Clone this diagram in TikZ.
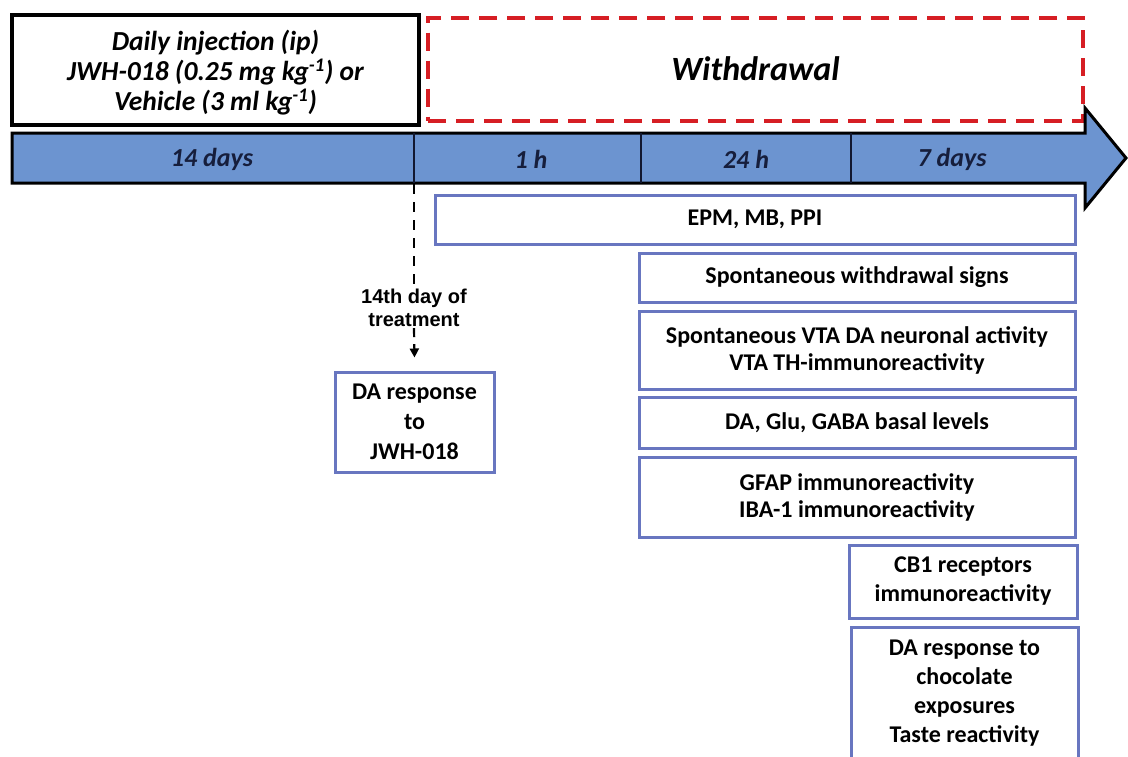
\documentclass[tikz,border=0pt]{standalone}
\usepackage{fontspec}
\setmainfont{Carlito}
\newfontfamily\arialfont{Liberation Sans}
\usetikzlibrary{arrows.meta}
\definecolor{barblue}{RGB}{108,148,208}
\definecolor{boxblue}{RGB}{104,118,192}
\definecolor{navy}{RGB}{22,30,60}
\definecolor{dashred}{RGB}{214,30,36}
\tikzset{
  infobox/.style={draw=boxblue, line width=3pt, fill=white, align=center, inner sep=0pt,
    font=\fontsize{24}{27}\selectfont\bfseries},
  bartext/.style={font=\fontsize{26}{28}\selectfont\bfseries\itshape, text=navy},
  tick/.style={line width=1.2pt, draw=navy!80!black},
  dashline/.style={line width=2.2pt, dash pattern=on 10pt off 8pt}
}
\begin{document}
\begin{tikzpicture}[x=1pt,y=-1pt]
\useasboundingbox (0,0) rectangle (1128,756);
\clip (0,0) rectangle (1128,756);
% top boxes
\node[draw=black, line width=4pt, minimum width=407pt, minimum height=110pt, inner sep=0pt] (inj) at (215.5,70) {};
\node[align=center, font=\fontsize{27.5}{30}\selectfont\bfseries\itshape, inner sep=0pt] (injtext) at (215.5,73)
  {Daily injection (ip)\\JWH-018 (0.25 mg kg\textsuperscript{-1}) or\\Vehicle (3 ml kg\textsuperscript{-1})};
\node[draw=dashred, line width=4pt, dash pattern=on 18pt off 10pt, minimum width=655pt, minimum height=103pt,
  font=\fontsize{34}{36}\selectfont\bfseries\itshape, inner sep=0pt] (wd) at (755.5,69)
  {Withdrawal};
% timeline arrow
\draw[fill=barblue, line width=3pt, line join=miter] (12,133) -- (1085,133) -- (1085,108) -- (1126,158)
  -- (1085,208) -- (1085,183) -- (12,183) -- cycle;
\draw[tick] (414,133) -- (414,183);
\draw[tick] (641,133) -- (641,183);
\draw[tick] (851,133) -- (851,183);
\node[bartext] (d14) at (212,159) {14 days};
\node[bartext] (h1) at (531,159) {1 h};
\node[bartext] (h24) at (746,159) {24 h};
\node[bartext] (d7) at (952,159) {7 days};
\coordinate (start) at (414,184);
% boxes
\node[infobox, minimum width=640pt, minimum height=49pt] (epm) at (755,219.5) {EPM, MB, PPI};
\node[infobox, minimum width=436pt, minimum height=49pt] (sws) at (857,277.5) {Spontaneous withdrawal signs};
\node[infobox, minimum width=436pt, minimum height=78pt] (vta) at (857,350) {Spontaneous VTA DA neuronal activity\\VTA TH-immunoreactivity};
\node[infobox, minimum width=436pt, minimum height=51pt] (dag) at (857,422.5) {DA, Glu, GABA basal levels};
\node[infobox, minimum width=436pt, minimum height=80pt] (gfap) at (857,497) {GFAP immunoreactivity\\IBA-1 immunoreactivity};
\node[infobox, minimum width=228pt, minimum height=73pt, font=\fontsize{24}{29}\selectfont\bfseries] (cb1) at (963,581.5) {CB1 receptors\\immunoreactivity};
\node[infobox, minimum width=227pt, minimum height=133pt, font=\fontsize{24}{29}\selectfont\bfseries] (choc) at (964.5,693.5) {DA response to\\chocolate\\exposures\\Taste reactivity};
\node[infobox, minimum width=159pt, minimum height=100pt, font=\fontsize{24}{30}\selectfont\bfseries] (jwh) at (414.5,422) {DA response\\to\\JWH-018};
% 14th day label and dashed connector
\node[align=center, inner sep=1pt, font=\arialfont\fontsize{20}{23}\selectfont\bfseries] (day) at (414,308) {14th day of\\treatment};
\draw[dashline] (start) -- (day.north);
\draw[dashline, dash pattern=on 9pt off 7pt, -{Triangle[length=9pt,width=9pt]}] (day.south) -- ([yshift=13pt]jwh.north);
\end{tikzpicture}
\end{document}
